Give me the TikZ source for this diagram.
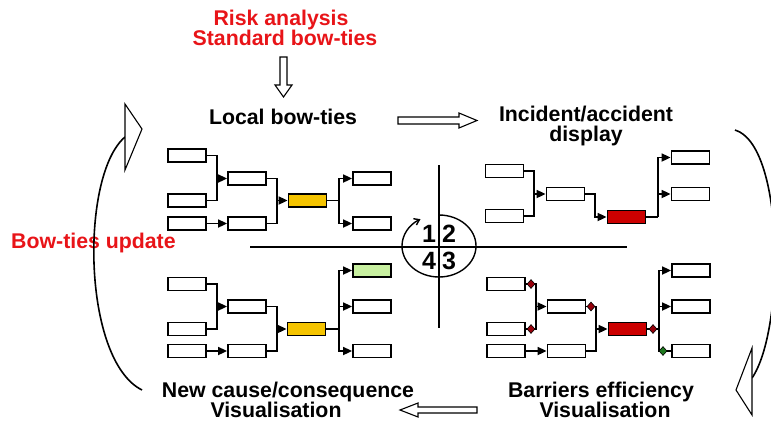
\documentclass[tikz,border=0pt]{standalone}
\usepackage{fontspec}
\setmainfont{Liberation Sans}
\usetikzlibrary{arrows.meta,shapes.geometric}
\definecolor{txtred}{RGB}{232,20,24}
\definecolor{ylw}{RGB}{245,196,0}
\definecolor{rd}{RGB}{204,0,0}
\definecolor{grn}{RGB}{200,240,160}
\definecolor{dkred}{RGB}{150,0,10}
\definecolor{dkgrn}{RGB}{30,120,30}
\tikzset{
  bx/.style={draw, line width=1.8pt, minimum width=38pt, minimum height=13pt, inner sep=0pt},
  ln/.style={line width=1.7pt},
  arr/.style={line width=1.7pt, -{Triangle[length=9pt,width=8pt]}},
  lbl/.style={font=\bfseries\fontsize{21.3}{20}\selectfont, align=center, inner sep=0pt},
  dig/.style={font=\bfseries\fontsize{25}{25}\selectfont, inner sep=0pt},
  hollow/.style={draw, line width=1.1pt, fill=white},
  dia/.style={diamond, draw=black, line width=0.6pt, inner sep=0pt, minimum width=8pt, minimum height=9pt},
}
\begin{document}
\begin{tikzpicture}[x=1pt,y=-1pt]
\useasboundingbox (0,0) rectangle (771,421);

% ---------- texts ----------
\node[lbl, text=txtred] (risk) at (285,28) {Risk analysis\hspace*{8pt}\\Standard bow-ties};
\node[lbl] (local) at (283,117) {Local bow-ties};
\node[lbl] (incid) at (586,126) {Incident/accident\\display};
\node[lbl, text=txtred, anchor=west] (upd) at (11,243) {Bow-ties update};
\node[lbl] (newc) at (288,400) {New cause/consequence\\Visualisation\hspace*{24pt}};
\node[lbl] (barr) at (601,400) {Barriers efficiency\\\hspace*{8pt}Visualisation};

% ---------- hollow block arrows ----------
\draw[hollow] (280,57) -- (287,57) -- (287,85) -- (292,85) -- (283.5,97) -- (275,85) -- (280,85) -- cycle;
\draw[hollow] (398,117) -- (459,117) -- (459,113) -- (477,120.5) -- (459,128) -- (459,124) -- (398,124) -- cycle;
\draw[hollow] (477,407) -- (418,407) -- (418,403) -- (400,410) -- (418,417) -- (418,413) -- (477,413) -- cycle;

% ---------- big curved arrows ----------
\coordinate (lstart) at (142,390);
\coordinate (lend) at (125,137);
\draw[line width=1.6pt] (lstart) .. controls (82,360) and (80,175) .. (lend);
\draw[hollow] (125,104) -- (142,129) -- (125,170) -- cycle;
\coordinate (rstart) at (735,130);
\coordinate (rend) at (752,378);
\draw[line width=1.6pt] (rstart) .. controls (785,145) and (785,330) .. (rend);
\draw[hollow] (752,348) -- (736,390) -- (752,415) -- cycle;

% ---------- centre axes and cycle ----------
\coordinate (hl) at (250,247);
\coordinate (hr) at (627,247);
\coordinate (vt) at (439,165);
\coordinate (vb) at (439,328);
\draw[line width=1.3pt] (hl) -- (hr);
\draw[line width=1.3pt] (vt) -- (vb);
\draw[line width=1.4pt, -{Straight Barb[length=5pt,width=7pt]}] (439,215) arc[start angle=90, end angle=-240, x radius=37pt, y radius=31pt];
\node[dig] (d1) at (429,234) {1};
\node[dig] (d2) at (449,234) {2};
\node[dig] (d4) at (429,261) {4};
\node[dig] (d3) at (449,261) {3};

% ---------- top-left bow-tie ----------
\node[bx] (tla1) at (187,155.5) {};
\node[bx] (tla2) at (187,200.5) {};
\node[bx] (tla3) at (187,223.5) {};
\node[bx] (tlb1) at (247,178.5) {};
\node[bx] (tlb2) at (247,223.5) {};
\node[bx, fill=ylw] (tlc) at (307.5,200.5) {};
\node[bx] (tlr1) at (372,178.5) {};
\node[bx] (tlr2) at (372,223.5) {};
\coordinate (tlj1) at (217,178.5);
\coordinate (tlj2) at (277,200.5);
\coordinate (tlj3) at (339,200.5);
\draw[ln] (tla1.east) -| (tlj1) |- (tla2.east);
\draw[arr] (tlj1) -- (tlb1.west);
\draw[arr] (tla3.east) -- (tlb2.west);
\draw[ln] (tlb1.east) -| (tlj2) |- (tlb2.east);
\draw[arr] (tlj2) -- (tlc.west);
\draw[ln] (tlc.east) -- (tlj3);
\draw[arr] (tlj3) |- (tlr1.west);
\draw[arr] (tlj3) |- (tlr2.west);

% ---------- top-right bow-tie ----------
\node[bx] (tra1) at (504.5,171) {};
\node[bx] (tra2) at (504.5,216) {};
\node[bx] (trb1) at (565.5,194) {};
\node[bx, fill=rd] (trc) at (626.5,217) {};
\node[bx] (trr1) at (690.5,157.5) {};
\node[bx] (trr2) at (690.5,194) {};
\coordinate (trj1) at (534,194);
\coordinate (trj2) at (595,217);
\coordinate (trj3) at (658,217);
\draw[ln] (tra1.east) -| (trj1) |- (tra2.east);
\draw[arr] (trj1) -- (trb1.west);
\draw[arr] (trb1.east) -| (trj2) -- (trc.west);
\draw[ln] (trc.east) -- (trj3);
\draw[arr] (trj3) |- (trr1.west);
\draw[arr] (trj3) |- (trr2.west);

% ---------- bottom-left bow-tie ----------
\node[bx] (bla1) at (187,284) {};
\node[bx] (bla2) at (187,329) {};
\node[bx] (bla3) at (187,351) {};
\node[bx] (blb1) at (247,306.5) {};
\node[bx] (blb2) at (247,351) {};
\node[bx, fill=ylw] (blc) at (306.5,329) {};
\node[bx, fill=grn] (blr1) at (372,270.5) {};
\node[bx] (blr2) at (372,306.5) {};
\node[bx] (blr3) at (372,351) {};
\coordinate (blj1) at (217,306.5);
\coordinate (blj2) at (277,329);
\coordinate (blj3) at (339,329);
\draw[ln] (bla1.east) -| (blj1) |- (bla2.east);
\draw[arr] (blj1) -- (blb1.west);
\draw[arr] (bla3.east) -- (blb2.west);
\draw[ln] (blb1.east) -| (blj2) |- (blb2.east);
\draw[arr] (blj2) -- (blc.west);
\draw[ln] (blc.east) -- (blj3);
\draw[arr] (blj3) |- (blr1.west);
\draw[arr] (blj3) |- (blr2.west);
\draw[arr] (blj3) |- (blr3.west);

% ---------- bottom-right bow-tie ----------
\node[bx] (bra1) at (506,284) {};
\node[bx] (bra2) at (506,329) {};
\node[bx] (bra3) at (506,351) {};
\node[bx] (brb1) at (566.5,306.5) {};
\node[bx] (brb2) at (566.5,351) {};
\node[bx, fill=rd] (brc) at (627.5,329) {};
\node[bx] (brr1) at (691,270.5) {};
\node[bx] (brr2) at (691,306.5) {};
\node[bx] (brr3) at (691,351) {};
\coordinate (brj1) at (536,306.5);
\coordinate (brj2) at (596,329);
\coordinate (brj3) at (659,329);
\draw[ln] (bra1.east) -| (brj1) |- (bra2.east);
\draw[arr] (brj1) -- (brb1.west);
\draw[arr] (bra3.east) -- (brb2.west);
\draw[ln] (brb1.east) -| (brj2) |- (brb2.east);
\draw[arr] (brj2) -- (brc.west);
\draw[ln] (brc.east) -- (brj3);
\draw[arr] (brj3) |- (brr1.west);
\draw[arr] (brj3) |- (brr2.west);
\draw[ln] (brj3) |- (brr3.west);
\node[dia, fill=dkred] (brd1) at (531,284) {};
\node[dia, fill=dkred] (brd2) at (531,329) {};
\node[dia, fill=dkred] (brd3) at (591,306.5) {};
\node[dia, fill=dkred] (brd4) at (653,329) {};
\node[dia, fill=dkgrn] (brd5) at (663,351) {};
\end{tikzpicture}
\end{document}
